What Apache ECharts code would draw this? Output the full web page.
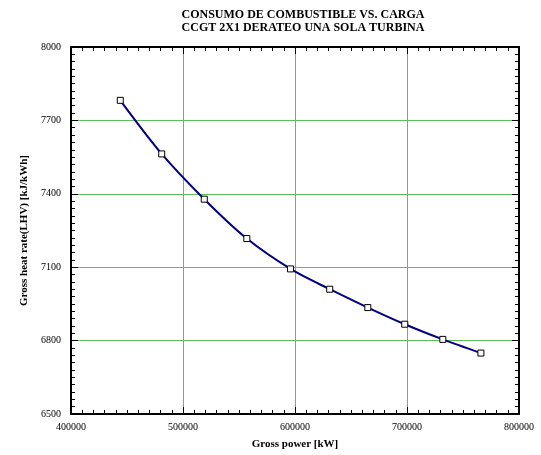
<!DOCTYPE html>
<html>
<head>
<meta charset="utf-8">
<script src="https://cdn.jsdelivr.net/npm/echarts@6/dist/echarts.min.js"></script>
<style>
  html, body { margin: 0; padding: 0; background: #fff; }
  #chart { width: 541px; height: 455px; }
</style>
</head>
<body>
<div id="chart"></div>
<script>
// datos
const grossPower = [444000, 481000, 519000, 557000, 596000, 631000, 665000, 698000, 732000, 766000];
const heatRate = [7782, 7563, 7378, 7217, 7093, 7010, 6935, 6867, 6805, 6749];
const titleLines = ['CONSUMO DE COMBUSTIBLE VS. CARGA', 'CCGT 2X1 DERATEO UNA SOLA TURBINA'];

const serif = '"Liberation Serif", "DejaVu Serif", serif';
const gridGreen = '#5cbf5c';
const myChart = echarts.init(document.getElementById('chart'));

const xBase = {
  type: 'value', min: 400000, max: 800000, interval: 100000,
  axisLine: { show: true, onZero: false, lineStyle: { color: '#000', width: 2 } },
  axisTick: { show: true, inside: true, length: 7, lineStyle: { color: '#000' } },
  minorTick: { show: true, splitNumber: 10, length: 4, lineStyle: { color: '#000' } },
  splitLine: { show: false },
  minorSplitLine: { show: false }
};
const yBase = {
  type: 'value', min: 6500, max: 8000, interval: 300,
  axisLine: { show: true, onZero: false, lineStyle: { color: '#000', width: 2 } },
  axisTick: { show: true, inside: true, length: 7, lineStyle: { color: '#000' } },
  minorTick: { show: true, splitNumber: 10, length: 4, lineStyle: { color: '#000' } },
  splitLine: { show: false },
  minorSplitLine: { show: false }
};

myChart.setOption({
  backgroundColor: '#fff',
  animation: false,
  title: {
    text: titleLines.join('\n'),
    left: 298, top: 3, textAlign: 'center',
    textStyle: { fontFamily: serif, fontWeight: 'bold', fontSize: 12, lineHeight: 13, color: '#000' }
  },
  grid: { left: 71, top: 47, right: 22, bottom: 36 },
  xAxis: [
    Object.assign({}, xBase, {
      position: 'bottom',
      name: 'Gross power [kW]', nameLocation: 'middle', nameGap: 25,
      nameTextStyle: { fontFamily: serif, fontWeight: 'bold', fontSize: 11, color: '#000' },
      axisLabel: { margin: 8, fontFamily: serif, fontSize: 10, color: '#000', formatter: v => String(v) },
      splitLine: { show: true, lineStyle: { color: [gridGreen], width: 1, opacity: 1 } }
    }),
    Object.assign({}, xBase, { position: 'top', axisLabel: { show: false } })
  ],
  yAxis: [
    Object.assign({}, yBase, {
      position: 'left',
      name: 'Gross heat rate(LHV) [kJ/kWh]', nameLocation: 'middle', nameGap: 40,
      nameTextStyle: { fontFamily: serif, fontWeight: 'bold', fontSize: 11, color: '#000' },
      axisLabel: { margin: 10, fontFamily: serif, fontSize: 10, color: '#000', formatter: v => String(v) },
      splitLine: { show: true, lineStyle: { color: [gridGreen], width: 1, opacity: 1 } }
    }),
    Object.assign({}, yBase, { position: 'right', axisLabel: { show: false } })
  ],
  series: [
    {
      type: 'line',
      data: grossPower.map((x, i) => [x, heatRate[i]]),
      smooth: 0.3,
      symbol: 'rect',
      symbolSize: 6,
      lineStyle: { color: '#000080', width: 2 },
      itemStyle: { color: '#fff', borderColor: '#000', borderWidth: 1 }
    }
  ]
});
</script>
</body>
</html>
